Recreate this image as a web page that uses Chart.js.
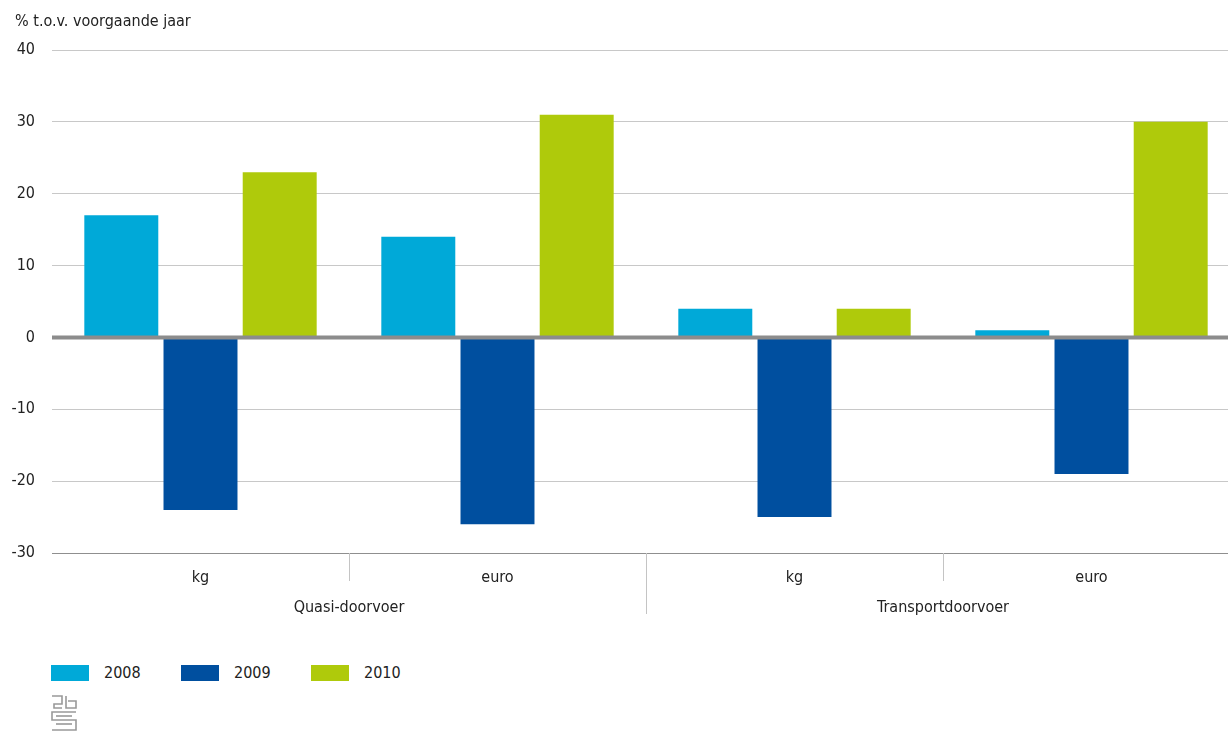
<!DOCTYPE html>
<html lang="nl">
<head>
  <meta charset="UTF-8" />
  <title>Doorvoer</title>
  <script src="https://cdn.jsdelivr.net/npm/chart.js"></script>
  <style>
    body { margin: 0; background: #fff; overflow: hidden; font-family: 'Liberation Sans Narrow', 'DejaVu Sans Condensed', sans-serif; }
    #wrap { position: relative; width: 1240px; height: 640px; }
    #legenda { position: absolute; left: 51px; top: 663px; display: flex; font-size: 16px; color: #222; }
    #legenda .item { display: flex; align-items: center; width: 130px; }
    #legenda .box { width: 38px; height: 16px; margin-right: 15px; }
    #logo { position: absolute; left: 51px; top: 695px; }
  </style>
</head>
<body>
  <div id="wrap"><canvas id="grafiek"></canvas></div>
  <div id="legenda"></div>
  <svg id="logo" width="26" height="36" viewBox="0 0 26 36" fill="none" stroke="#999" stroke-width="1.6">
    <path d="M1 1H11V9H3V13H11"/><path d="M15 1V13H25V6H17"/>
    <path d="M25 17H1V25H25V35H1"/><path d="M21 21H5"/><path d="M5 29H21"/>
  </svg>

  <script>
    const categorieen = ["kg", "euro", "kg", "euro"];
    const groepen = ["Quasi-doorvoer", "Transportdoorvoer"];
    const jaren = ["2008", "2009", "2010"];
    const waarden2008 = [17, 14, 4, 1];
    const waarden2009 = [-24, -26, -25, -19];
    const waarden2010 = [23, 31, 4, 30];
    const kleuren = ["#00a9d8", "#004f9f", "#afca0b"];
    const asTitel = "% t.o.v. voorgaande jaar";

    const lettertype = "'Liberation Sans Narrow', 'DejaVu Sans Condensed', sans-serif";
    Chart.defaults.font.family = lettertype;
    Chart.defaults.font.size = 16;
    Chart.defaults.color = "#222";

    // extra tekst, nullijn en scheidingsstreepjes
    const extras = {
      id: "extras",
      afterDatasetsDraw(chart) {
        const { ctx, chartArea, scales } = chart;
        const x = scales.x, y = scales.y;
        ctx.save();
        // nullijn over de staven
        ctx.strokeStyle = "#8c8c8c";
        ctx.lineWidth = 4;
        const y0 = y.getPixelForValue(0);
        ctx.beginPath();
        ctx.moveTo(chartArea.left, y0);
        ctx.lineTo(chartArea.right, y0);
        ctx.stroke();

        // scheidingen tussen categorieen
        ctx.strokeStyle = "#c4c4c4";
        ctx.lineWidth = 1;
        for (let i = 0; i < categorieen.length - 1; i++) {
          const xs = Math.round((x.getPixelForValue(i) + x.getPixelForValue(i + 1)) / 2) + 0.5;
          const lang = i === 1 ? 61 : 28;
          ctx.beginPath();
          ctx.moveTo(xs, chartArea.bottom);
          ctx.lineTo(xs, chartArea.bottom + lang);
          ctx.stroke();
        }

        // groepnamen
        ctx.fillStyle = "#222";
        ctx.font = "16px " + lettertype;
        ctx.textAlign = "center";
        ctx.textBaseline = "middle";
        groepen.forEach((g, j) => {
          const xm = (x.getPixelForValue(j * 2) + x.getPixelForValue(j * 2 + 1)) / 2;
          ctx.fillText(g, xm, chartArea.bottom + 55);
        });

        // astitel
        ctx.textAlign = "left";
        ctx.font = "16px 'DejaVu Sans Condensed', sans-serif";
        ctx.fillText(asTitel, 15, 22);
        ctx.restore();
      },
    };

    const ctx = document.getElementById("grafiek").getContext("2d");
    const grafiek = new Chart(ctx, {
      type: "bar",
      data: {
        labels: categorieen,
        datasets: [
          { label: jaren[0], data: waarden2008, backgroundColor: kleuren[0] },
          { label: jaren[1], data: waarden2009, backgroundColor: kleuren[1] },
          { label: jaren[2], data: waarden2010, backgroundColor: kleuren[2] },
        ],
      },
      options: {
        responsive: true,
        maintainAspectRatio: false,
        animation: false,
        categoryPercentage: 0.8,
        barPercentage: 0.934,
        layout: { padding: { top: 50, right: 0, left: 0, bottom: 0 } },
        scales: {
          x: {
            grid: { display: false },
            border: { display: false },
            ticks: { padding: 7, color: "#222" },
            afterFit: (s) => { s.height = 87; },
          },
          y: {
            min: -30,
            max: 40,
            ticks: { stepSize: 10, padding: 17, color: "#222" },
            border: { display: false },
            grid: {
              drawTicks: false,
              lineWidth: 1,
              color: (c) => (c.tick.value === 0 ? "rgba(0,0,0,0)" : c.tick.value === -30 ? "#8f8f8f" : "#c8c8c8"),
            },
            afterFit: (s) => { s.width = 52; },
          },
        },
        plugins: {
          legend: { display: false },
          tooltip: { enabled: false },
        },
      },
      plugins: [extras],
    });

    // legenda onderaan
    const leg = document.getElementById("legenda");
    grafiek.data.datasets.forEach((ds) => {
      const item = document.createElement("div");
      item.className = "item";
      item.innerHTML = `<span class="box" style="background:${ds.backgroundColor}"></span><span style="font-family:'DejaVu Sans Condensed',sans-serif">${ds.label}</span>`;
      leg.appendChild(item);
    });
  </script>
</body>
</html>
